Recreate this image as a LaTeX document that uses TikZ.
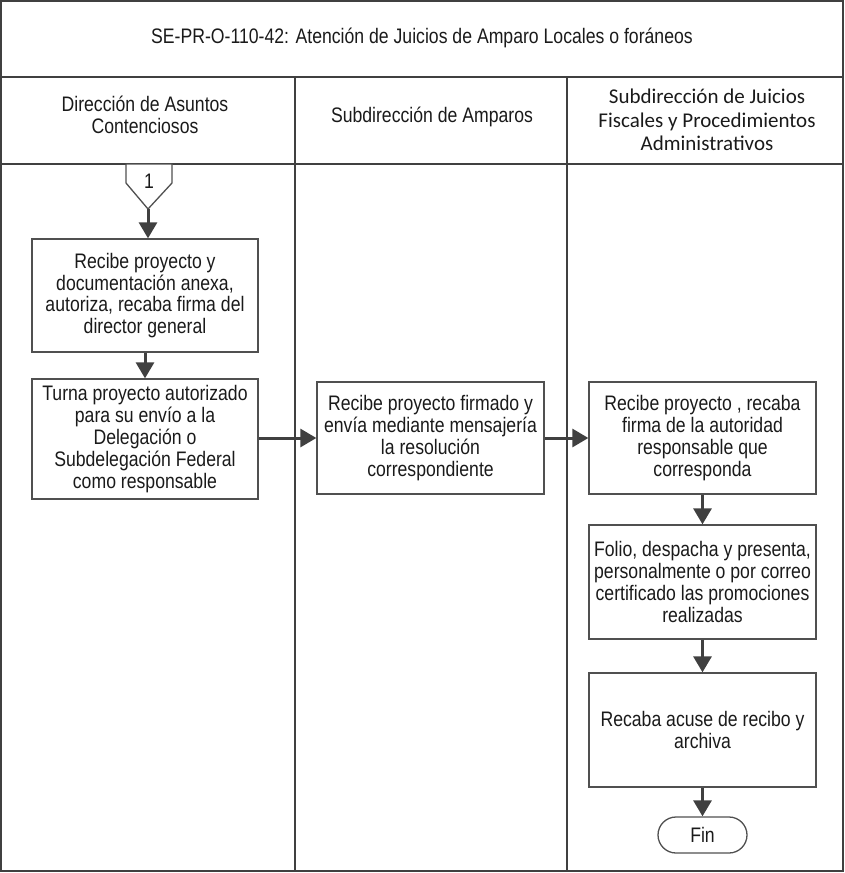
\documentclass[tikz,border=0pt]{standalone}
\usepackage{fontspec}
\setmainfont{Liberation Sans}[FakeStretch=0.84]
\newfontfamily\calib{Carlito}
\usetikzlibrary{arrows.meta}
\definecolor{linec}{HTML}{404040}
\definecolor{boxc}{HTML}{505050}
\definecolor{txt}{HTML}{1A1A1A}
\tikzset{
  frame/.style={draw=linec, line width=2pt},
  lanediv/.style={draw=linec, line width=2.4pt},
  hdr/.style={align=center, inner sep=0pt, text=txt, font=\fontsize{21}{22.5}\selectfont},
  hdrc/.style={align=center, inner sep=0pt, text=txt, font=\calib\fontsize{21}{23.5}\selectfont},
  procbox/.style={draw=boxc, line width=1.3pt, align=center, inner sep=0pt, text=txt,
     font=\fontsize{21}{21.8}\selectfont, minimum width=226pt},
  termbox/.style={draw=boxc, line width=1.3pt, align=center, inner sep=0pt, text=txt,
     font=\fontsize{21}{21.8}\selectfont, minimum width=89pt, minimum height=36pt, rounded corners=18pt},
  flow/.style={draw=linec, line width=3pt, -{Triangle[length=16pt,width=18pt]}},
}
\begin{document}
\begin{tikzpicture}[x=1pt,y=-1pt]
\useasboundingbox (0,0) rectangle (844,873);
% frame
\draw[frame] (1,1) rectangle (843,871);
\draw[frame] (1,77) -- (843,77);
\draw[frame] (1,164) -- (843,164);
\draw[lanediv] (295,77) -- (295,871);
\draw[lanediv] (567,77) -- (567,871);
% headers
\node[hdr] (title) at (422,38) {SE-PR-O-110-42: Atención de Juicios de Amparo Locales o foráneos};
\node[hdr] (lane1) at (145,115) {Dirección de Asuntos\\Contenciosos};
\node[hdr] (lane2) at (432,117) {Subdirección de Amparos};
\node[hdrc] (lane3) at (707,120) {Subdirección de Juicios\\Fiscales y Procedimientos\\Administrativos};
% off-page connector
\draw[draw=boxc, line width=1.3pt, fill=white] (126,164) -- (172,164) -- (172,183) -- (148,209) -- (126,183) -- cycle;
\coordinate (c1tip) at (148,209);
\node[hdr] (c1) at (149,181) {1};
% boxes
\node[procbox, minimum height=113pt] (b1) at (145,295.5) {Recibe proyecto y\\documentación anexa,\\autoriza, recaba firma del\\director general};
\node[procbox, minimum height=120pt] (b2) at (145,439) {Turna proyecto autorizado\\para su envío a la\\Delegación o\\Subdelegación Federal\\como responsable};
\node[procbox, minimum width=227pt, minimum height=112pt] (b3) at (430.5,438) {Recibe proyecto firmado y\\envía mediante mensajería\\la resolución\\correspondiente};
\node[procbox, minimum width=227pt, minimum height=112pt] (b4) at (702.5,438) {Recibe proyecto , recaba\\firma de la autoridad\\responsable que\\corresponda};
\node[procbox, minimum width=227pt, minimum height=114pt] (b5) at (702.5,582) {Folio, despacha y presenta,\\personalmente o por correo\\certificado las promociones\\realizadas};
\node[procbox, minimum width=227pt, minimum height=114pt] (b6) at (702.5,730) {Recaba acuse de recibo y\\archiva};
\node[termbox] (fin) at (702.5,835) {Fin};
% connectors
\draw[flow] (c1tip) -- (c1tip |- b1.north);
\draw[flow] (b1.south) -- (b2.north);
\draw[flow] (b2.east |- b3.west) -- (b3.west);
\draw[flow] (b3.east) -- (b4.west);
\draw[flow] (b4.south) -- (b5.north);
\draw[flow] (b5.south) -- (b6.north);
\draw[flow] (b6.south) -- (fin.north);
\end{tikzpicture}
\end{document}
